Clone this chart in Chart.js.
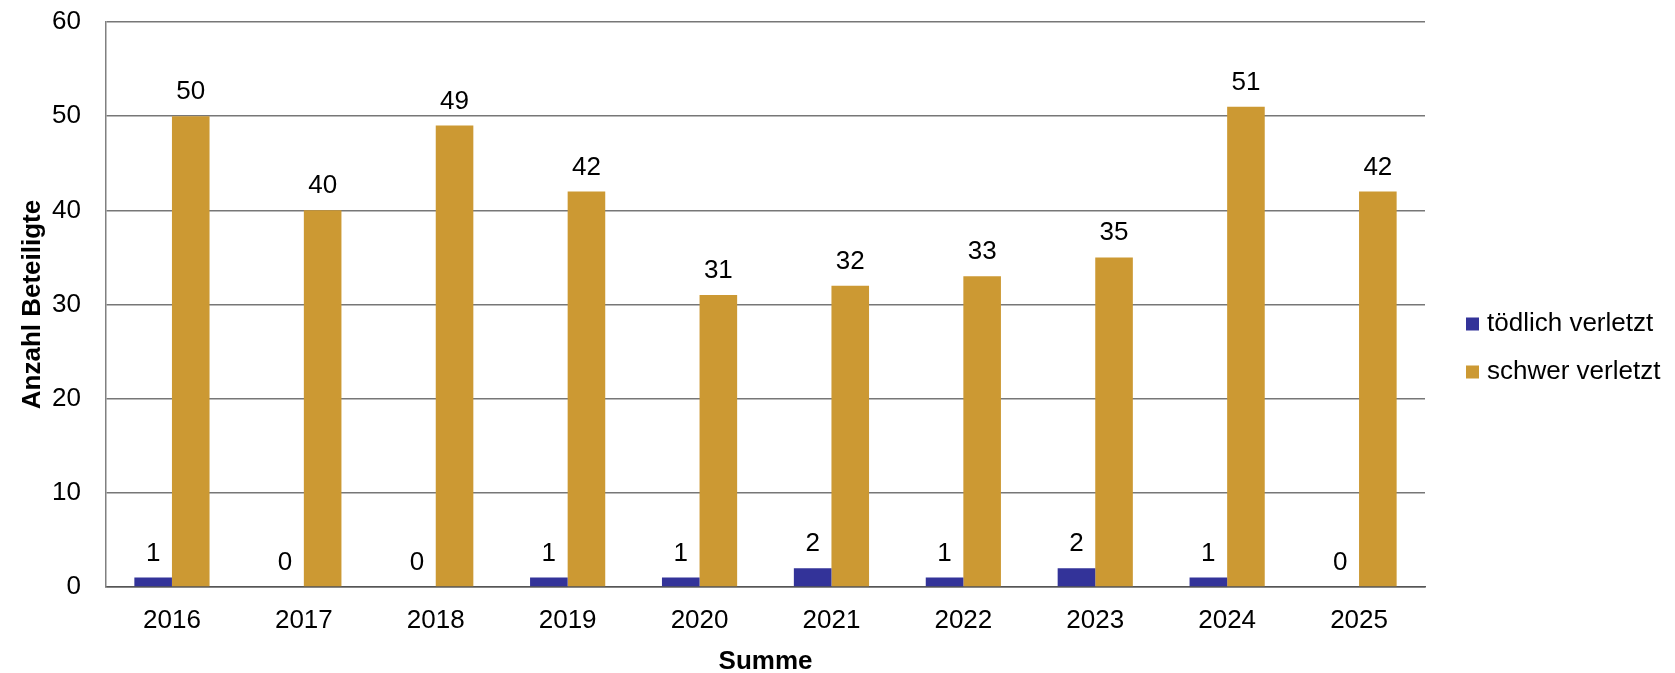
<!DOCTYPE html>
<html>
<head>
<meta charset="utf-8">
<script src="https://cdn.jsdelivr.net/npm/chart.js@4/dist/chart.umd.min.js"></script>
<style>
  html, body { margin: 0; padding: 0; background: #fff; }
  #wrap { width: 1675px; height: 673px; position: relative; }
</style>
</head>
<body>
<div id="wrap"><canvas id="c" width="1675" height="673"></canvas></div>
<script>
const years = ['2016','2017','2018','2019','2020','2021','2022','2023','2024','2025'];
const toedlich = [1, 0, 0, 1, 1, 2, 1, 2, 1, 0];
const schwer = [50, 40, 49, 42, 31, 32, 33, 35, 51, 42];
const seriesNames = ['tödlich verletzt', 'schwer verletzt'];
const seriesColors = ['#333399', '#CC9933'];
const yTitle = 'Anzahl Beteiligte';
const xTitle = 'Summe';

const FONT = "'Liberation Sans', Arial, sans-serif";

const valueLabels = {
  id: 'valueLabels',
  afterDatasetsDraw(chart) {
    const ctx = chart.ctx;
    ctx.save();
    ctx.font = '26px ' + FONT;
    ctx.fillStyle = '#000';
    ctx.textAlign = 'center';
    ctx.textBaseline = 'alphabetic';
    chart.data.datasets.forEach((ds, di) => {
      const meta = chart.getDatasetMeta(di);
      meta.data.forEach((bar, i) => {
        ctx.fillText(String(ds.data[i]), bar.x, bar.y - 17);
      });
    });
    ctx.restore();
  }
};

const sideLegend = {
  id: 'sideLegend',
  afterDraw(chart) {
    const ctx = chart.ctx;
    ctx.save();
    ctx.font = '26px ' + FONT;
    ctx.textBaseline = 'middle';
    ctx.textAlign = 'left';
    const x0 = 1466, y0 = 324, gap = 48, box = 13;
    chart.data.datasets.forEach((ds, i) => {
      const cy = y0 + i * gap;
      ctx.fillStyle = ds.backgroundColor;
      ctx.fillRect(x0, cy - box / 2, box, box);
      ctx.fillStyle = '#000';
      ctx.fillText(ds.label, x0 + box + 8, cy);
    });
    ctx.restore();
  }
};

new Chart(document.getElementById('c'), {
  type: 'bar',
  data: {
    labels: years,
    datasets: [
      { label: seriesNames[0], data: toedlich, backgroundColor: seriesColors[0], barPercentage: 1, categoryPercentage: 0.57 },
      { label: seriesNames[1], data: schwer, backgroundColor: seriesColors[1], barPercentage: 1, categoryPercentage: 0.57 }
    ]
  },
  options: {
    responsive: false,
    animation: false,
    layout: { padding: { left: 0, top: 22, right: 250, bottom: 0 } },
    plugins: {
      legend: { display: false },
      tooltip: { enabled: false }
    },
    scales: {
      x: {
        grid: { display: false, drawTicks: false },
        border: { display: true, color: '#555555', width: 1.5 },
        ticks: { color: '#000', font: { family: FONT, size: 26 }, padding: 18, maxRotation: 0 },
        title: { display: true, text: xTitle, color: '#000', font: { family: FONT, size: 26, weight: 'bold', lineHeight: 0.85 }, padding: 0 },
        afterFit(scale) { scale.height = 86; scale.paddingLeft = 0; scale.paddingRight = 0; }
      },
      y: {
        min: 0, max: 60,
        ticks: { stepSize: 10, color: '#000', font: { family: FONT, size: 26 }, padding: 25 },
        grid: { color: '#777777', lineWidth: 1.5, drawTicks: false },
        border: { display: true, color: '#808080', width: 1.5 },
        title: { display: true, text: yTitle, color: '#000', font: { family: FONT, size: 26, weight: 'bold' }, padding: { top: 17, bottom: 0 } },
        afterFit(scale) { scale.width = 106; scale.paddingTop = 0; scale.paddingBottom = 0; }
      }
    }
  },
  plugins: [valueLabels, sideLegend]
});
</script>
</body>
</html>
